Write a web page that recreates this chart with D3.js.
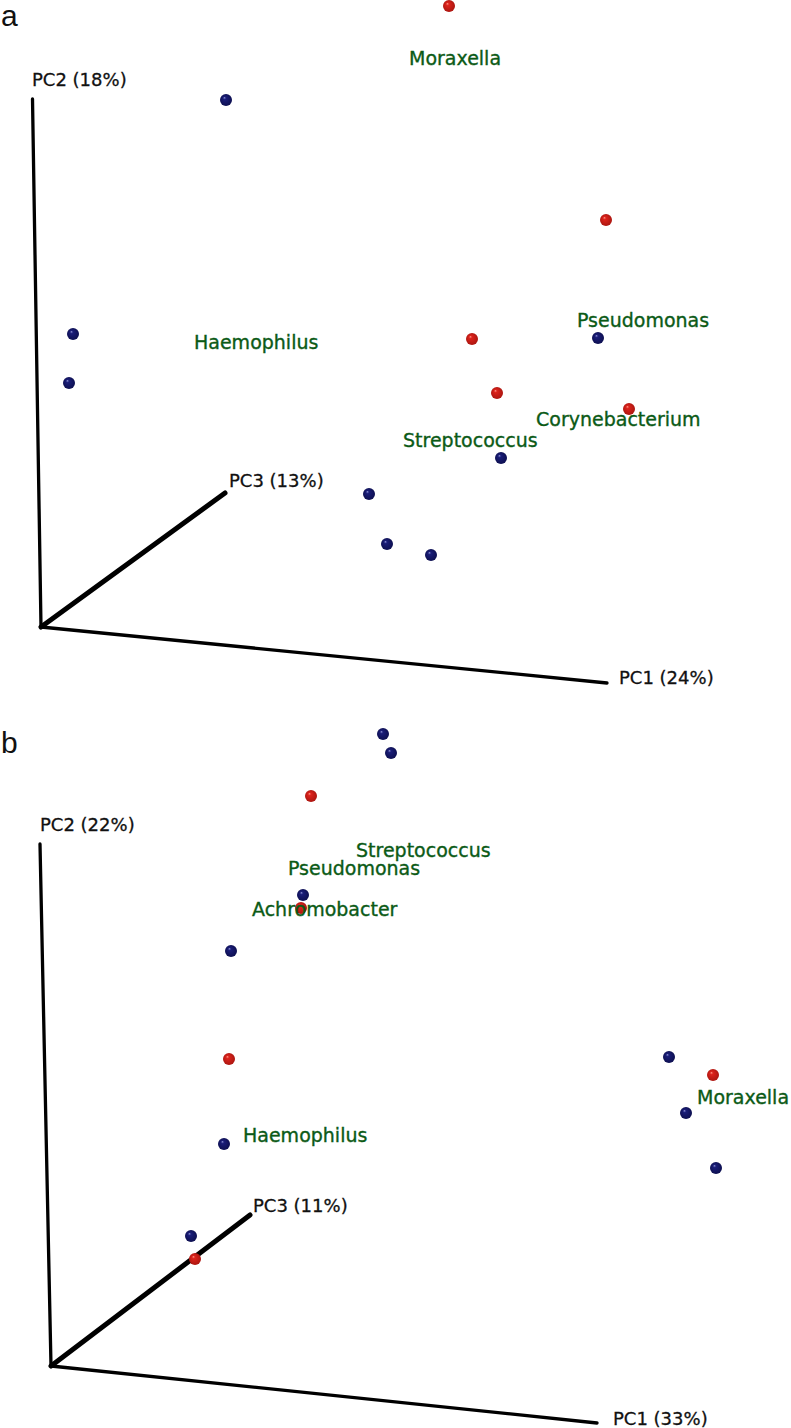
<!DOCTYPE html>
<html>
<head>
<meta charset="utf-8">
<script src="https://cdn.jsdelivr.net/npm/d3@7.9.0/dist/d3.min.js"></script>
<style>
  body { margin: 0; background: #fff; }
  svg { display: block; }
  .taxon { font-family: 'DejaVu Sans', sans-serif; font-size: 19px; fill: #0b5a16; stroke: #0b5a16; stroke-width: 0.35px; }
  .axis-label { font-family: 'DejaVu Sans', sans-serif; font-size: 18px; fill: #111; stroke: #111; stroke-width: 0.3px; }
  .panel-letter { font-family: 'Liberation Sans', Arial, sans-serif; font-size: 30px; fill: #111; }
</style>
</head>
<body>
<svg id="chart" width="791" height="1428"></svg>
<script>
// projected PCoA coordinates, origin of the axes = (0,0), y upward

// panel a
const aBlueX = [185, 32, 28, 557, 460, 328, 346, 390];
const aBlueY = [527, 293, 244, 289, 169, 133, 83, 72];
const aRedX = [408, 565, 431, 456, 588];
const aRedY = [621, 407, 288, 234, 218];
const aTaxa = ['Moraxella', 'Haemophilus', 'Pseudomonas', 'Corynebacterium', 'Streptococcus'];
const aTaxaX = [368, 153, 536, 495, 362];
const aTaxaY = [562, 278, 300, 201, 180];
const aAxes = ['PC1 (24%)', 'PC2 (18%)', 'PC3 (13%)'];
const aAxisEndX = [566, -8.5, 184];
const aAxisEndY = [-56, 528, 134];
const aAxisLabelX = [578, -9, 188];
const aAxisLabelY = [-57, 541, 140];

// panel b
const bBlueX = [332, 340, 252, 180, 618, 635, 665, 173, 140];
const bBlueY = [632, 613, 471, 415, 309, 253, 198, 222, 130];
const bRedX = [260, 250, 178, 662, 144];
const bRedY = [570, 458, 307, 291, 107];
const bTaxa = ['Streptococcus', 'Pseudomonas', 'Achromobacter', 'Haemophilus', 'Moraxella'];
const bTaxaX = [305, 237, 201, 192, 646];
const bTaxaY = [509, 491, 450, 224, 262];
const bAxes = ['PC1 (33%)', 'PC2 (22%)', 'PC3 (11%)'];
const bAxisEndX = [546, -11, 199];
const bAxisEndY = [-57, 522, 151];
const bAxisLabelX = [562, -11, 202];
const bAxisLabelY = [-59, 535, 154];

const svg = d3.select('#chart');

// shaded sphere look for the sample dots
const defs = svg.append('defs');
function sphere(id, light, base, dark) {
  const g = defs.append('radialGradient').attr('id', id)
    .attr('cx', '50%').attr('cy', '50%').attr('r', '55%')
    .attr('fx', '35%').attr('fy', '30%');
  g.append('stop').attr('offset', '0%').attr('stop-color', light);
  g.append('stop').attr('offset', '22%').attr('stop-color', base);
  g.append('stop').attr('offset', '100%').attr('stop-color', dark);
}
sphere('blueBall', '#8f93d6', '#1a1d78', '#0c0e4d');
sphere('redBall', '#ff9a8a', '#dc231c', '#a8150f');

function drawPanel(p) {
  const g = svg.append('g');
  const x = d3.scaleLinear().domain([0, 100]).range([p.ox, p.ox + 100]);
  const y = d3.scaleLinear().domain([0, 100]).range([p.oy, p.oy - 100]);

  g.append('text').attr('class', 'panel-letter')
    .attr('x', 1).attr('y', p.letterY).text(p.letter);

  // the three PC axes from the common origin
  const widths = [3.3, 3.3, 5];
  p.axes.forEach((lab, i) => {
    g.append('line')
      .attr('x1', x(0)).attr('y1', y(0))
      .attr('x2', x(p.axisEndX[i])).attr('y2', y(p.axisEndY[i]))
      .attr('stroke', '#000').attr('stroke-width', widths[i])
      .attr('stroke-linecap', 'round');
    g.append('text').attr('class', 'axis-label')
      .attr('x', x(p.axisLabelX[i])).attr('y', y(p.axisLabelY[i]))
      .text(lab);
  });

  g.selectAll('circle.blue').data(d3.zip(p.blueX, p.blueY)).join('circle')
    .attr('class', 'blue')
    .attr('cx', d => x(d[0])).attr('cy', d => y(d[1])).attr('r', 6)
    .attr('fill', 'url(#blueBall)');

  g.selectAll('circle.red').data(d3.zip(p.redX, p.redY)).join('circle')
    .attr('class', 'red')
    .attr('cx', d => x(d[0])).attr('cy', d => y(d[1])).attr('r', 6)
    .attr('fill', 'url(#redBall)');

  g.selectAll('text.taxon').data(p.taxa).join('text')
    .attr('class', 'taxon')
    .attr('x', (d, i) => x(p.taxaX[i])).attr('y', (d, i) => y(p.taxaY[i]))
    .text(d => d);
}

drawPanel({
  letter: 'a', letterY: 26, ox: 41, oy: 627,
  blueX: aBlueX, blueY: aBlueY, redX: aRedX, redY: aRedY,
  taxa: aTaxa, taxaX: aTaxaX, taxaY: aTaxaY,
  axes: aAxes, axisEndX: aAxisEndX, axisEndY: aAxisEndY,
  axisLabelX: aAxisLabelX, axisLabelY: aAxisLabelY
});

drawPanel({
  letter: 'b', letterY: 753, ox: 51, oy: 1366,
  blueX: bBlueX, blueY: bBlueY, redX: bRedX, redY: bRedY,
  taxa: bTaxa, taxaX: bTaxaX, taxaY: bTaxaY,
  axes: bAxes, axisEndX: bAxisEndX, axisEndY: bAxisEndY,
  axisLabelX: bAxisLabelX, axisLabelY: bAxisLabelY
});
</script>
</body>
</html>
